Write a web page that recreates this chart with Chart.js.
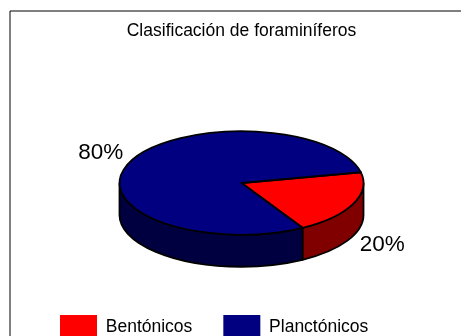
<!DOCTYPE html>
<html>
<head>
<meta charset="utf-8">
<title>Clasificación de foraminíferos</title>
<script src="https://cdn.jsdelivr.net/npm/chart.js@4.4.1/dist/chart.umd.min.js"></script>
<style>
  html, body { margin: 0; padding: 0; background: #fff; overflow: hidden; }
  #wrap { width: 461px; height: 336px; overflow: hidden; }
  canvas { display: block; }
</style>
</head>
<body>
<div id="wrap"><canvas id="pieChart" width="486" height="349"></canvas></div>
<script>
// Datos del gráfico
const categorias = ['Bentónicos', 'Planctónicos'];
const porcentajes = [20, 80];

// Colores: cara superior y canto de cada porción
const coloresCara = ['#ff0000', '#000080'];
const coloresCanto = ['#800000', '#000040'];

const FUENTE = 'Arial, "Liberation Sans", sans-serif';
const INCLINACION = 0.424;  // alto/ancho del óvalo
const GROSOR = 32;          // alto del canto en px

// Trozos de un arco que caen en la mitad delantera del óvalo (0..PI)
function tramosVisibles(a0, a1) {
  const out = [];
  for (let k = -2; k <= 2; k++) {
    const lo = Math.max(a0, k * 2 * Math.PI);
    const hi = Math.min(a1, k * 2 * Math.PI + Math.PI);
    if (hi > lo) out.push([lo, hi]);
  }
  return out;
}

// Marco exterior: sólo el borde izquierdo y el superior caen dentro de la ventana
const marco = {
  id: 'marco',
  beforeDraw(chart) {
    const ctx = chart.ctx;
    ctx.save();
    ctx.strokeStyle = '#000';
    ctx.lineWidth = 1;
    ctx.beginPath();
    ctx.moveTo(10, chart.height);
    ctx.lineTo(10, 11);
    ctx.lineTo(chart.width, 11);
    ctx.stroke();
    ctx.restore();
  }
};

// Tarta en perspectiva a partir de los arcos que calcula Chart.js
const tarta3d = {
  id: 'tarta3d',
  beforeDatasetsDraw(chart) {
    const ctx = chart.ctx;
    const arcs = chart.getDatasetMeta(0).data;
    const total = porcentajes.reduce((a, b) => a + b, 0);
    const props = arcs.map(a => a.getProps(['x', 'y', 'startAngle', 'endAngle', 'outerRadius']));

    ctx.save();
    ctx.lineWidth = 1.8;
    ctx.strokeStyle = '#000';
    ctx.lineJoin = 'round';

    // cantos
    props.forEach((p, i) => {
      const ry = p.outerRadius * INCLINACION;
      tramosVisibles(p.startAngle, p.endAngle).forEach(([s, e]) => {
        ctx.beginPath();
        ctx.ellipse(p.x, p.y, p.outerRadius, ry, 0, s, e);
        ctx.lineTo(p.x + p.outerRadius * Math.cos(e), p.y + ry * Math.sin(e) + GROSOR);
        ctx.ellipse(p.x, p.y + GROSOR, p.outerRadius, ry, 0, e, s, true);
        ctx.closePath();
        ctx.fillStyle = coloresCanto[i];
        ctx.fill();
        ctx.stroke();
      });
    });

    // caras superiores
    props.forEach((p, i) => {
      const ry = p.outerRadius * INCLINACION;
      ctx.beginPath();
      ctx.moveTo(p.x, p.y);
      ctx.ellipse(p.x, p.y, p.outerRadius, ry, 0, p.startAngle, p.endAngle);
      ctx.closePath();
      ctx.fillStyle = coloresCara[i];
      ctx.fill();
      ctx.stroke();
    });

    // etiquetas de porcentaje
    ctx.fillStyle = '#000';
    ctx.font = '22.5px ' + FUENTE;
    ctx.textAlign = 'center';
    ctx.textBaseline = 'middle';
    props.forEach((p, i) => {
      const ry = p.outerRadius * INCLINACION;
      const m = (p.startAngle + p.endAngle) / 2;
      const lx = p.x + (p.outerRadius + 32) * Math.cos(m);
      const ly = p.y + GROSOR / 2 + (ry + 61) * Math.sin(m);
      ctx.fillText(Math.round(porcentajes[i] / total * 100) + '%', lx, ly);
    });

    ctx.restore();
    return false;
  }
};

new Chart(document.getElementById('pieChart'), {
  type: 'pie',
  data: {
    labels: categorias,
    datasets: [{
      data: porcentajes,
      backgroundColor: coloresCara,
      borderColor: '#000',
      borderWidth: 1,
      radius: 122
    }]
  },
  options: {
    responsive: false,
    animation: false,
    events: [],
    rotation: 78,
    layout: { padding: { left: 29, right: 32, top: 0, bottom: 0 } },
    plugins: {
      title: {
        display: true,
        text: 'Clasificación de foraminíferos',
        color: '#000',
        font: { family: FUENTE, size: 17.5, weight: 'normal' },
        padding: { top: 21, bottom: 40 }
      },
      legend: {
        position: 'bottom',
        align: 'start',
        labels: {
          color: '#000',
          font: { family: FUENTE, size: 17.5 },
          boxWidth: 37,
          boxHeight: 24,
          padding: 31,
          generateLabels(chart) {
            return Chart.overrides.pie.plugins.legend.labels.generateLabels(chart)
              .map(l => Object.assign(l, { lineWidth: 0 }));
          }
        }
      },
      tooltip: { enabled: false }
    }
  },
  plugins: [marco, tarta3d]
});
</script>
</body>
</html>
